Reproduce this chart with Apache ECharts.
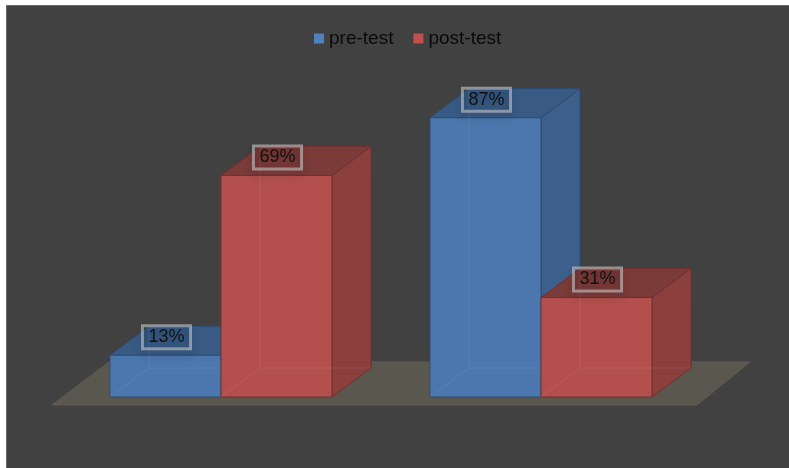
<!DOCTYPE html>
<html>
<head>
<meta charset="utf-8">
<script src="https://cdn.jsdelivr.net/npm/echarts@6/dist/echarts.min.js"></script>
<style>
  html, body { margin: 0; padding: 0; background: #fff; }
  #frame {
    position: absolute;
    left: 6px;
    top: 5px;
    width: 783px;
    height: 463px;
    box-sizing: border-box;
    border-left: 1px solid #6b6b6b;
    border-top: 1px solid #6b6b6b;
    background: #414141;
  }
  #chart { width: 782px; height: 462px; }
</style>
</head>
<body>
<div id="frame"><div id="chart"></div></div>
<script>
// data
const categories = ['group 1', 'group 2']
const preTest = [13, 87]
const postTest = [69, 31]
const seriesNames = ['pre-test', 'post-test']

// face colours for each series: front, top, side, edge
const palette = [
  { front: '#4b77ae', top: '#385a84', side: '#3d5f8b', edge: '#2d4d74', legend: '#4f81bd' },
  { front: '#b3504d', top: '#7a3b39', side: '#8b403e', edge: '#73302e', legend: '#c0504d' },
]

// depth offset of the fake 3D box
const DX = 39
const DY = -29

const chart = echarts.init(document.getElementById('chart'), null, { renderer: 'canvas' })

function barRenderer(seriesPos) {
  return (params, api) => {
    const idx = api.value(0)
    const val = api.value(1)
    const base = api.coord([idx, 0])
    const top = api.coord([idx, val])
    const band = api.size([1, 0])[0]
    const w = band * 0.347
    const x0 = base[0] - w + seriesPos * w
    const yT = top[1]
    const yB = base[1]
    const c = palette[seriesPos]
    const edge = { stroke: c.edge, lineWidth: 1 }
    return {
      type: 'group',
      children: [
        {
          type: 'polygon',
          shape: { points: [[x0 + w, yT], [x0 + w + DX, yT + DY], [x0 + w + DX, yB + DY], [x0 + w, yB]] },
          style: Object.assign({ fill: c.side }, edge),
        },
        {
          type: 'polygon',
          shape: { points: [[x0, yT], [x0 + DX, yT + DY], [x0 + w + DX, yT + DY], [x0 + w, yT]] },
          style: Object.assign({ fill: c.top }, edge),
        },
        {
          type: 'rect',
          shape: { x: x0, y: yT, width: w, height: yB - yT },
          style: Object.assign({ fill: c.front }, edge),
        },
        // hidden back edges, showing faintly through the faces
        {
          type: 'polyline',
          shape: { points: [[x0 + DX, yT + DY], [x0 + DX, yB + DY], [x0 + w + DX, yB + DY]] },
          style: { stroke: 'rgba(255,255,255,0.07)', lineWidth: 1, fill: null },
        },
        {
          type: 'line',
          shape: { x1: x0, y1: yB, x2: x0 + DX, y2: yB + DY },
          style: { stroke: 'rgba(255,255,255,0.07)', lineWidth: 1 },
        },
        {
          type: 'text',
          style: {
            text: val + '%',
            x: x0 + w / 2 + 1,
            y: yT - 18,
            align: 'center',
            verticalAlign: 'middle',
            fill: '#111',
            font: '18px "Liberation Sans", Arial, sans-serif',
            backgroundColor: 'rgba(0,0,0,0.04)',
            borderColor: 'rgba(200,200,200,0.62)',
            borderWidth: 1.5,
            padding: [3, 6, 2, 6],
            shadowColor: 'rgba(0,0,0,0.25)',
            shadowBlur: 8,
            shadowOffsetY: 6,
          },
        },
      ],
    }
  }
}

function floorRenderer(params, api) {
  const cs = params.coordSys
  const yB = api.coord([0, 0])[1]
  const fl = cs.x - 9
  const fr = cs.x + cs.width - 4
  const yF = yB + 8
  const yK = yB - 35
  return {
    type: 'polygon',
    shape: { points: [[fl, yF], [fr, yF], [fr + 53, yK], [fl + 57, yK]] },
    style: { fill: '#5a574f', stroke: '#5f5c54', lineWidth: 1 },
  }
}

const option = {
  animation: false,
  legend: {
    data: seriesNames,
    left: 302,
    top: 18,
    icon: 'rect',
    itemWidth: 10,
    itemHeight: 10,
    itemGap: 20,
    textStyle: { color: '#0a0a0a', fontSize: 19, fontFamily: '"Liberation Sans", Arial, sans-serif' },
  },
  grid: { left: 54, right: 88, top: 70, bottom: 71 },
  xAxis: { type: 'category', data: categories, show: false },
  yAxis: { type: 'value', min: 0, max: 100, show: false },
  series: [
    {
      name: 'floor',
      type: 'custom',
      silent: true,
      data: [[0, 0]],
      renderItem: floorRenderer,
    },
    {
      name: seriesNames[0],
      type: 'custom',
      itemStyle: { color: palette[0].legend },
      data: preTest.map((v, i) => [i, v]),
      renderItem: barRenderer(0),
    },
    {
      name: seriesNames[1],
      type: 'custom',
      itemStyle: { color: palette[1].legend },
      data: postTest.map((v, i) => [i, v]),
      renderItem: barRenderer(1),
    },
  ],
}

chart.setOption(option)
</script>
</body>
</html>
